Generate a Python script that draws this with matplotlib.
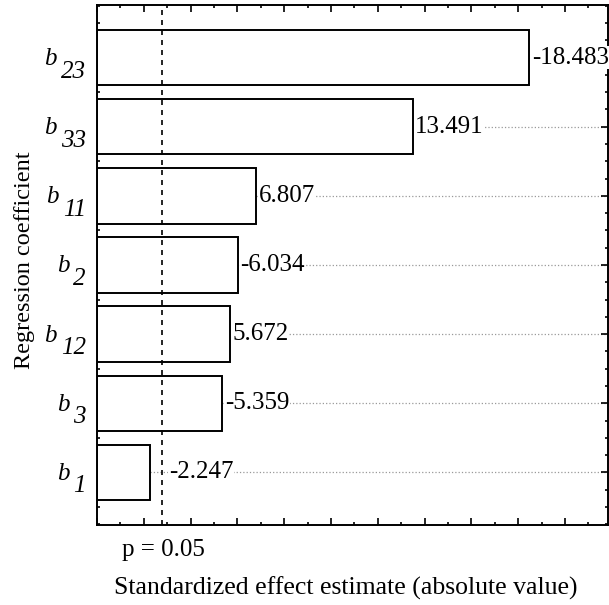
import matplotlib
matplotlib.use("Agg")
import matplotlib.pyplot as plt
import matplotlib.transforms as mtransforms
import numpy as np

# --- data (bottom to top) ---
subscripts = ["1", "3", "12", "2", "11", "33", "23"]
effects = [-2.247, -5.359, 5.672, -6.034, 6.807, 13.491, -18.483]
p_crit = 2.776  # t value for p = 0.05

plt.rcParams['font.family'] = ['Liberation Serif', 'DejaVu Serif']

fig = plt.figure(figsize=(6.09, 6.05), dpi=100)
ax = fig.add_axes([97 / 609, 1 - 525 / 605, 511 / 609, 520 / 605])

y = np.arange(len(effects))
absvals = np.abs(effects)

ax.barh(y, absvals, height=0.8, color='white', edgecolor='black',
        linewidth=1.4, zorder=2)
ax.axvline(p_crit, color='black', linestyle=(0, (3, 3)), linewidth=1.2, zorder=3)

# dotted reference lines at each coefficient
ax.set_yticks(y)
ax.yaxis.grid(True, linestyle=':', color='#999999', linewidth=0.9, zorder=0)
ax.set_axisbelow(True)

# value labels
for yi, v, a in zip(y, effects, absvals):
    xpos = a + 0.1 if a > p_crit + 0.3 else p_crit + 0.3
    ax.text(xpos, yi, f"{v:.3f}", va='center', ha='left', fontsize=18,
            bbox=dict(facecolor='white', edgecolor='none', pad=0.5), zorder=4)

ax.set_xlim(0, 21.84)
ax.set_ylim(-0.76, len(effects) - 0.24)

ax.set_xticks(np.arange(0, 22, 2))
ax.set_xticks(np.arange(0, 22, 1), minor=True)
ax.set_yticks(np.arange(-0.75, len(effects) - 0.24, 0.25), minor=True)
ax.tick_params(which='both', direction='in', top=True, right=True,
               labelbottom=False, labelleft=False, width=1.2)
ax.tick_params(which='major', length=5)
ax.tick_params(which='minor', length=2.5)

for s in ax.spines.values():
    s.set_linewidth(1.4)

# y tick labels: italic b with lowered subscript, right aligned
trans = mtransforms.blended_transform_factory(ax.transAxes, ax.transData)
fig.canvas.draw()
renderer = fig.canvas.get_renderer()
inv = ax.transAxes.inverted()
for yi, sub in zip(y, subscripts):
    t = ax.text(-0.022, yi - 0.29, sub, transform=trans, ha='right',
                va='baseline', fontsize=18, fontstyle='italic')
    bb = t.get_window_extent(renderer)
    x_left = inv.transform((bb.x0, bb.y0))[0]
    ax.text(x_left - 0.008, yi - 0.108, "b", transform=trans, ha='right',
            va='baseline', fontsize=18, fontstyle='italic')

fig.text(122 / 609, 1 - 550 / 605, "p = 0.05", fontsize=18, ha='left', va='center')
fig.text(346 / 609, 1 - 588 / 605, "Standardized effect estimate (absolute value)",
         fontsize=18.5, ha='center', va='center')
fig.text(25 / 609, 1 - 260 / 605, "Regression coefficient", fontsize=17.5,
         rotation=90, ha='center', va='center')

fig.savefig("out.png", dpi=100)
